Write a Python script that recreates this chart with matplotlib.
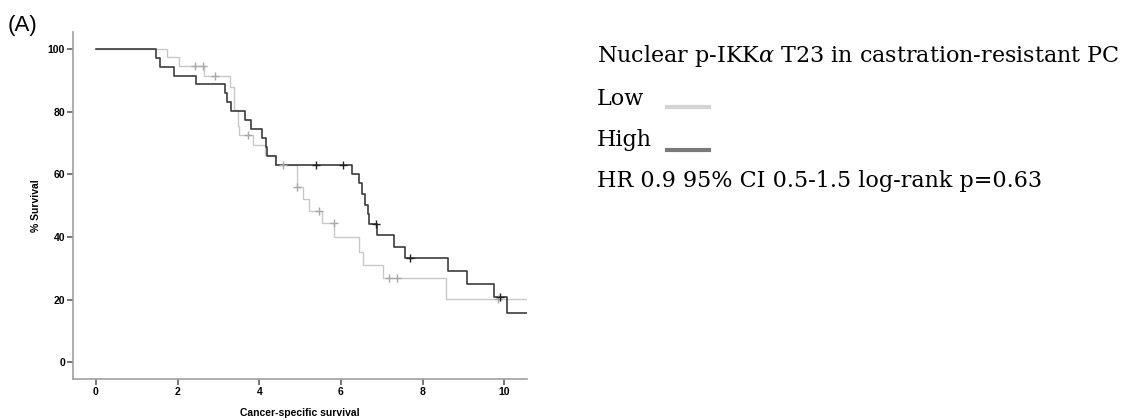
import matplotlib
matplotlib.use("Agg")
import matplotlib.pyplot as plt

# Kaplan-Meier steps
high_t = [0, 1.47, 1.58, 1.92, 2.46, 3.15, 3.20, 3.30, 3.65, 3.79, 4.07, 4.16, 4.20, 4.40,
          6.27, 6.45, 6.51, 6.59, 6.66, 6.69, 6.89, 7.30, 7.57, 8.62, 9.09, 9.74, 10.07, 10.6]
high_s = [100, 97.0, 94.4, 91.5, 88.7, 85.9, 83.2, 80.3, 77.4, 74.4, 71.5, 68.6, 66.0, 63.0,
          60.0, 57.2, 53.7, 50.2, 47.4, 44.1, 40.7, 36.9, 33.2, 29.2, 25.0, 21.0, 15.7, 15.7]
high_cens_t = [5.39, 6.05, 6.86, 7.70, 9.90]
high_cens_s = [63.0, 63.0, 44.1, 33.2, 21.0]

low_t = [0, 1.75, 2.03, 2.65, 3.28, 3.37, 3.47, 3.51, 3.84, 4.14, 4.39, 4.92, 5.08, 5.23,
         5.53, 5.83, 6.45, 6.55, 7.03, 8.58, 10.6]
low_s = [100, 97.3, 94.5, 91.5, 88.0, 80.5, 75.4, 72.6, 69.4, 66.2, 63.0, 55.8, 52.1, 48.3,
         44.4, 39.9, 35.3, 31.1, 26.9, 20.2, 20.2]
low_cens_t = [2.43, 2.63, 2.92, 3.73, 4.57, 4.93, 5.47, 5.82, 7.17, 7.37, 9.86]
low_cens_s = [94.5, 94.5, 91.5, 72.6, 63.0, 55.8, 48.3, 44.4, 26.9, 26.9, 20.2]

x_ticks = [0, 2, 4, 6, 8, 10]
y_ticks = [0, 20, 40, 60, 80, 100]

low_col = "#c8c8c8"
high_col = "#3c3c3c"

plt.rcParams['mathtext.fontset'] = 'dejavuserif'

fig = plt.figure(figsize=(11.38, 4.2), dpi=100)
ax = fig.add_axes([0.0644, 0.0976, 0.3984, 0.8269])

ax.step(low_t, low_s, where='post', color=low_col, lw=1.0)
ax.step(high_t, high_s, where='post', color=high_col, lw=1.2)
ax.plot(low_cens_t, low_cens_s, '+', color="#a8a8a8", ms=6, mew=1.0)
ax.plot(high_cens_t, high_cens_s, '+', color="#202020", ms=6, mew=1.0)

ax.set_xlim(-0.556, 10.55)
ax.set_ylim(-5.3, 105.5)
ax.set_xticks(x_ticks)
ax.set_yticks(y_ticks)

for s in ['top', 'right']:
    ax.spines[s].set_visible(False)
for s in ['left', 'bottom']:
    ax.spines[s].set_color("#a0a0a0")
    ax.spines[s].set_linewidth(1.2)

ax.tick_params(axis='both', direction='out', length=4, width=1.2, color="#606060",
               pad=2, labelsize=7.5)
for lab in ax.get_xticklabels() + ax.get_yticklabels():
    lab.set_fontweight('bold')
    lab.set_family('Liberation Sans')

ax.set_xlabel("Cancer-specific survival", fontsize=7.5, fontweight='bold',
              family='Liberation Sans', labelpad=8)
ax.set_ylabel("% Survival", fontsize=7.5, fontweight='bold',
              family='Liberation Sans', labelpad=5)

fig.text(0.007, 0.925, "(A)", fontsize=16, family='Liberation Sans', va='baseline')

# right-hand annotation block
tx = 597 / 1138
fs = 16
fig.text(tx, 1 - 61.7 / 420, r"Nuclear p-IKK$\alpha$ T23 in castration-resistant PC",
         fontsize=fs, family='DejaVu Serif', va='baseline')
fig.text(tx, 1 - 105 / 420, "Low", fontsize=fs, family='DejaVu Serif', va='baseline')
fig.text(tx, 1 - 145.7 / 420, "High", fontsize=fs, family='DejaVu Serif', va='baseline')
fig.text(tx, 1 - 186.7 / 420, "HR 0.9 95% CI 0.5-1.5 log-rank p=0.63",
         fontsize=fs, family='DejaVu Serif', va='baseline')
fig.add_artist(plt.Line2D([666.7 / 1138, 709.3 / 1138], [1 - 106.7 / 420] * 2,
                          color="#d4d4d4", lw=3, transform=fig.transFigure))
fig.add_artist(plt.Line2D([666.7 / 1138, 709.3 / 1138], [1 - 150 / 420] * 2,
                          color="#7a7a7a", lw=3, transform=fig.transFigure))

fig.savefig("out.png", dpi=100)
